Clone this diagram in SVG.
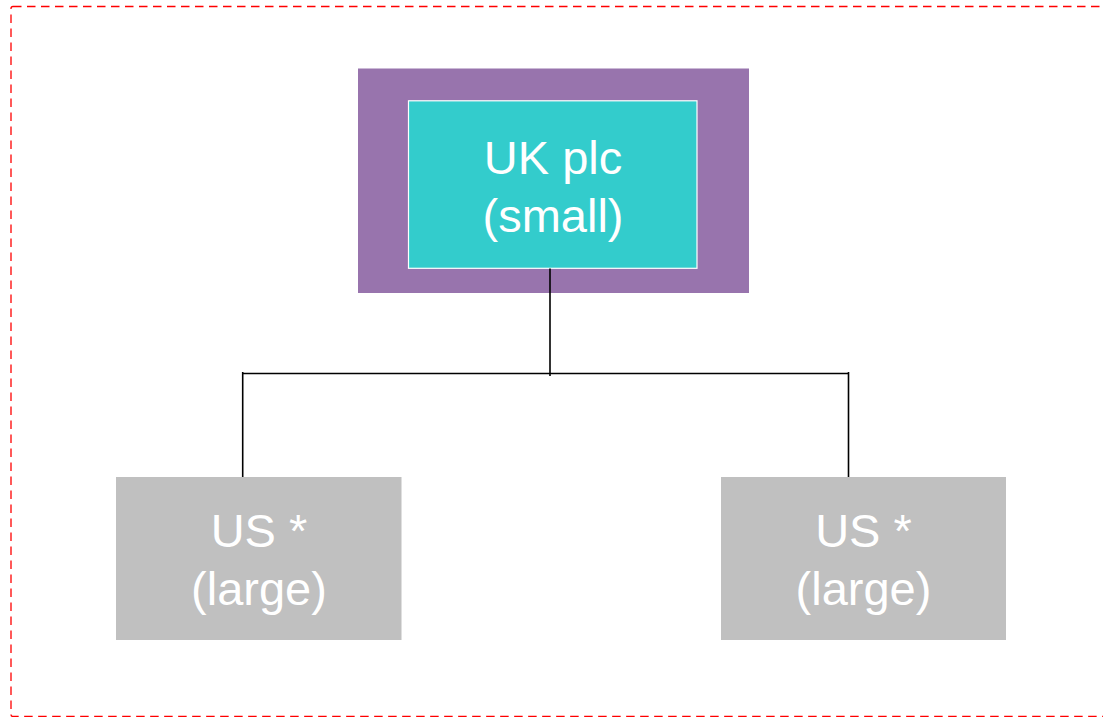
<svg xmlns="http://www.w3.org/2000/svg" width="1103" height="717" viewBox="0 0 1103 717">
  <style>
    .frame { fill: none; stroke: #ff0000; stroke-width: 1.3; stroke-dasharray: 8.5 5.5; }
    .label { font-family: "Liberation Sans", Arial, sans-serif; font-size: 47px; fill: #ffffff; text-anchor: middle; }
    .link { fill: none; stroke: #000000; stroke-width: 1.6; }
    .sub { fill: #c0c0c0; }
  </style>
  <rect width="1103" height="717" fill="#ffffff"/>
  <!-- dashed outer frame -->
  <rect class="frame" x="11" y="6.5" width="1100" height="710" rx="2"/>

  <!-- parent company: outer band with inner box -->
  <g id="uk-plc">
    <rect x="358" y="68.5" width="391" height="224.5" fill="#9874ad"/>
    <rect x="408.5" y="100.8" width="288.5" height="167.5" fill="#33cccc" stroke="#ffffff" stroke-width="1.2"/>
    <text class="label" x="553" y="173.5">UK plc</text>
    <text class="label" x="553" y="231.5">(small)</text>
  </g>

  <!-- connectors -->
  <g id="connectors">
    <line class="link" x1="550" y1="268.5" x2="550" y2="376"/>
    <line class="link" x1="242.7" y1="373.5" x2="849" y2="373.5"/>
    <line class="link" x1="242.7" y1="372" x2="242.7" y2="477"/>
    <line class="link" x1="848.5" y1="372" x2="848.5" y2="477"/>
  </g>

  <!-- subsidiaries -->
  <g id="us-left">
    <rect class="sub" x="116" y="477" width="285.5" height="163"/>
    <text class="label" x="259" y="547">US *</text>
    <text class="label" x="259" y="605">(large)</text>
  </g>
  <g id="us-right">
    <rect class="sub" x="721" y="477" width="285" height="163"/>
    <text class="label" x="863.5" y="547">US *</text>
    <text class="label" x="863.5" y="605">(large)</text>
  </g>
</svg>
